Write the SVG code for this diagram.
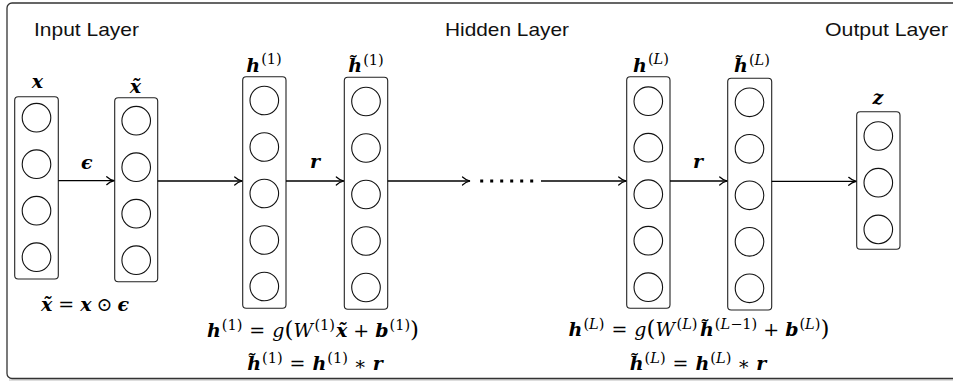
<svg xmlns="http://www.w3.org/2000/svg" width="953" height="383" viewBox="0 0 953 383">
<style>
.frame{fill:#fff;stroke:#333;stroke-width:1.3}
.col{fill:#fff;stroke:#222;stroke-width:1.1}
.neu{fill:#fff;stroke:#111;stroke-width:1.1}
.conn{stroke:#000;stroke-width:1.3;fill:none}
.title{font-family:"Liberation Sans",Arial,sans-serif;font-size:19px;fill:#111}
.m{font-family:"DejaVu Serif","Liberation Serif",serif;font-size:19px;fill:#000}
.v{font-weight:bold;font-style:italic}
.i{font-style:italic}
.s{font-size:14.5px}
.big{font-size:23px}
</style>
<defs>
<marker id="arr" markerUnits="userSpaceOnUse" markerWidth="12" markerHeight="12" viewBox="-9 -6 10 12" refX="0" refY="0" orient="auto">
<path d="M-7.5,-4 C-5,-1.6 -2,-0.5 0,0 C-2,0.5 -5,1.6 -7.5,4" stroke="#000" stroke-width="1.2" fill="none" stroke-linecap="round"/>
</marker>
</defs>
<rect x="0" y="0" width="953" height="383" fill="#fff"/>
<line x1="9" y1="380" x2="953" y2="380" stroke="#bbb" stroke-width="1.2"/>
<rect class="frame" x="7" y="3" width="960" height="375.5" rx="5"/>

<text class="title" x="34" y="35.7" textLength="105" lengthAdjust="spacingAndGlyphs">Input Layer</text>
<text class="title" x="445" y="35.7" textLength="124" lengthAdjust="spacingAndGlyphs">Hidden Layer</text>
<text class="title" x="825" y="35.7" textLength="123" lengthAdjust="spacingAndGlyphs">Output Layer</text>

<g id="col-x">
<rect class="col" x="14.7" y="96.7" width="43.6" height="182.3" rx="3.5"/>
<circle class="neu" cx="36.5" cy="117.7" r="14.3"/>
<circle class="neu" cx="36.5" cy="164.2" r="14.3"/>
<circle class="neu" cx="36.5" cy="210.7" r="14.3"/>
<circle class="neu" cx="36.5" cy="257.2" r="14.3"/>
<text class="m v" x="37.5" y="88" text-anchor="middle">x</text>
</g>
<g id="col-xt">
<rect class="col" x="114.7" y="97.7" width="43" height="184" rx="3.5"/>
<circle class="neu" cx="136.2" cy="120.7" r="14.3"/>
<circle class="neu" cx="136.2" cy="167.2" r="14.3"/>
<circle class="neu" cx="136.2" cy="213.7" r="14.3"/>
<circle class="neu" cx="136.2" cy="260.2" r="14.3"/>
<text class="m v" x="135.5" y="93" text-anchor="middle">x̃</text>
</g>
<g id="col-h1">
<rect class="col" x="242.7" y="76.7" width="43.3" height="231.5" rx="3.5"/>
<circle class="neu" cx="264.3" cy="100.5" r="14.3"/>
<circle class="neu" cx="264.3" cy="147" r="14.3"/>
<circle class="neu" cx="264.3" cy="193.5" r="14.3"/>
<circle class="neu" cx="264.3" cy="240" r="14.3"/>
<circle class="neu" cx="264.3" cy="286.5" r="14.3"/>
<text class="m" x="264" y="71.5" text-anchor="middle"><tspan class="v">h</tspan><tspan class="s" dx="1" dy="-7.5">(1)</tspan></text>
</g>
<g id="col-ht1">
<rect class="col" x="344.3" y="77.3" width="43.4" height="232" rx="3.5"/>
<circle class="neu" cx="366" cy="101.5" r="14.3"/>
<circle class="neu" cx="366" cy="148" r="14.3"/>
<circle class="neu" cx="366" cy="194.5" r="14.3"/>
<circle class="neu" cx="366" cy="241" r="14.3"/>
<circle class="neu" cx="366" cy="287.5" r="14.3"/>
<text class="m" x="366" y="72" text-anchor="middle"><tspan class="v">h̃</tspan><tspan class="s" dx="1" dy="-7.5">(1)</tspan></text>
</g>
<g id="col-hL">
<rect class="col" x="626.7" y="76.7" width="43.3" height="231.6" rx="3.5"/>
<circle class="neu" cx="648.3" cy="101.2" r="14.3"/>
<circle class="neu" cx="648.3" cy="147.7" r="14.3"/>
<circle class="neu" cx="648.3" cy="194.2" r="14.3"/>
<circle class="neu" cx="648.3" cy="240.7" r="14.3"/>
<circle class="neu" cx="648.3" cy="287.2" r="14.3"/>
<text class="m" x="651" y="71.7" text-anchor="middle"><tspan class="v">h</tspan><tspan class="s" dx="1" dy="-7.5">(<tspan class="i">L</tspan>)</tspan></text>
</g>
<g id="col-htL">
<rect class="col" x="727.7" y="78.3" width="44" height="231.7" rx="3.5"/>
<circle class="neu" cx="749.5" cy="102.3" r="14.3"/>
<circle class="neu" cx="749.5" cy="148.8" r="14.3"/>
<circle class="neu" cx="749.5" cy="195.3" r="14.3"/>
<circle class="neu" cx="749.5" cy="241.8" r="14.3"/>
<circle class="neu" cx="749.5" cy="288.3" r="14.3"/>
<text class="m" x="752" y="72" text-anchor="middle"><tspan class="v">h̃</tspan><tspan class="s" dx="1" dy="-7.5">(<tspan class="i">L</tspan>)</tspan></text>
</g>
<g id="col-z">
<rect class="col" x="856.7" y="111.7" width="43.3" height="137.6" rx="3.5"/>
<circle class="neu" cx="878.3" cy="136" r="14.3"/>
<circle class="neu" cx="878.3" cy="182.7" r="14.3"/>
<circle class="neu" cx="878.3" cy="229.4" r="14.3"/>
<text class="m v" x="878" y="104" text-anchor="middle">z</text>
</g>

<g id="connectors">
<line class="conn" x1="58.3" y1="180.7" x2="114.2" y2="180.7" marker-end="url(#arr)"/>
<line class="conn" x1="157.7" y1="181" x2="242.2" y2="181" marker-end="url(#arr)"/>
<line class="conn" x1="286" y1="181" x2="343.8" y2="181" marker-end="url(#arr)"/>
<line class="conn" x1="387.7" y1="181" x2="470" y2="181" marker-end="url(#arr)"/>
<g fill="#000">
<rect x="480.2" y="179.5" width="3" height="3"/>
<rect x="490.2" y="179.5" width="3" height="3"/>
<rect x="500.2" y="179.5" width="3" height="3"/>
<rect x="510.2" y="179.5" width="3" height="3"/>
<rect x="520.2" y="179.5" width="3" height="3"/>
<rect x="530.2" y="179.5" width="3" height="3"/>
</g>
<line class="conn" x1="541" y1="181" x2="626.2" y2="181" marker-end="url(#arr)"/>
<line class="conn" x1="670" y1="181" x2="727.2" y2="181" marker-end="url(#arr)"/>
<line class="conn" x1="771.7" y1="181.3" x2="856.2" y2="181.3" marker-end="url(#arr)"/>
<text class="m v" x="86.7" y="169" text-anchor="middle">ϵ</text>
<text class="m v" x="315" y="168" text-anchor="middle">r</text>
<text class="m v" x="698" y="168" text-anchor="middle">r</text>
</g>

<g id="formulas">
<text class="m" x="85" y="311" text-anchor="middle"><tspan class="v">x̃</tspan><tspan dx="6">=</tspan><tspan class="v" dx="6">x</tspan><tspan dx="5">⊙</tspan><tspan class="v" dx="5">ϵ</tspan></text>
<text class="m" x="313" y="337" text-anchor="middle"><tspan class="v">h</tspan><tspan class="s" dx="1" dy="-7.5">(1)</tspan><tspan dx="7" dy="7.5">=</tspan><tspan class="i" dx="7">g</tspan><tspan class="big">(</tspan><tspan class="i">W</tspan><tspan class="s" dx="1.5" dy="-7.5">(1)</tspan><tspan class="v" dx="1" dy="7.5">x̃</tspan><tspan dx="6">+</tspan><tspan class="v" dx="6">b</tspan><tspan class="s" dx="1" dy="-7.5">(1)</tspan><tspan class="big" dy="7.5">)</tspan></text>
<text class="m" x="315" y="370" text-anchor="middle"><tspan class="v">h̃</tspan><tspan class="s" dx="1" dy="-7.5">(1)</tspan><tspan dx="7" dy="7.5">=</tspan><tspan class="v" dx="7">h</tspan><tspan class="s" dx="1" dy="-7.5">(1)</tspan><tspan dx="6" dy="7.5">∗</tspan><tspan class="v" dx="6">r</tspan></text>
<text class="m" x="699" y="336" text-anchor="middle"><tspan class="v">h</tspan><tspan class="s" dx="1" dy="-7.5">(<tspan class="i">L</tspan>)</tspan><tspan dx="7" dy="7.5">=</tspan><tspan class="i" dx="7">g</tspan><tspan class="big">(</tspan><tspan class="i">W</tspan><tspan class="s" dx="1.5" dy="-7.5">(<tspan class="i">L</tspan>)</tspan><tspan class="v" dx="2.5" dy="7.5">h̃</tspan><tspan class="s" dx="1" dy="-7.5">(<tspan class="i">L</tspan>−1)</tspan><tspan dx="6" dy="7.5">+</tspan><tspan class="v" dx="6">b</tspan><tspan class="s" dx="1" dy="-7.5">(<tspan class="i">L</tspan>)</tspan><tspan class="big" dy="7.5">)</tspan></text>
<text class="m" x="698" y="370" text-anchor="middle"><tspan class="v">h̃</tspan><tspan class="s" dx="1" dy="-7.5">(<tspan class="i">L</tspan>)</tspan><tspan dx="7" dy="7.5">=</tspan><tspan class="v" dx="7">h</tspan><tspan class="s" dx="1" dy="-7.5">(<tspan class="i">L</tspan>)</tspan><tspan dx="6" dy="7.5">∗</tspan><tspan class="v" dx="6">r</tspan></text>
</g>
</svg>
